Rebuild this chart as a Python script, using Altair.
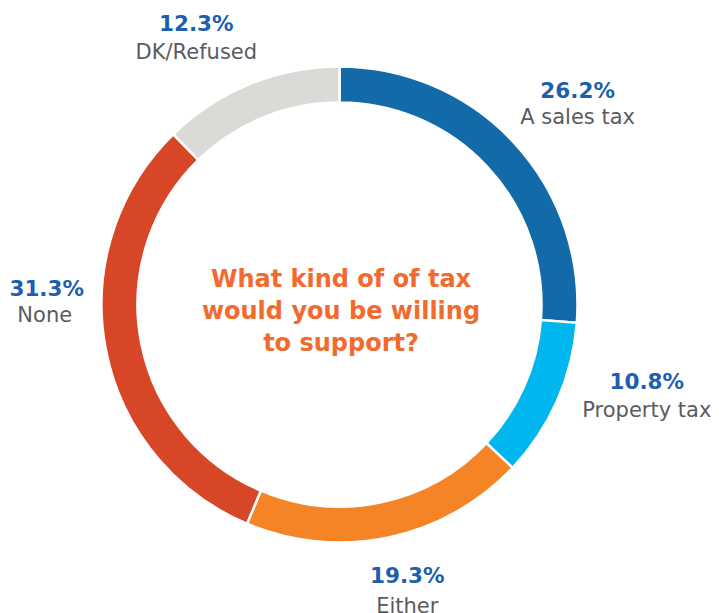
import altair as alt
import pandas as pd

categories = ["A sales tax", "Property tax", "Either", "None", "DK/Refused"]
values = [26.2, 10.8, 19.3, 31.3, 12.3]
pct_labels = ["26.2%", "10.8%", "19.3%", "31.3%", "12.3%"]
colors = ["#126AA8", "#00B6EF", "#F58426", "#D74627", "#DADAD6"]
center_lines = ["What kind of of tax", "would you be willing", "to support?"]

df = pd.DataFrame({
    "category": categories,
    "value": values,
    "pct": pct_labels,
    "idx": list(range(len(categories))),
})

FONT = "DejaVu Sans"
base = alt.Chart(df)

theta = alt.Theta("value:Q", stack=True)
order = alt.Order("idx:Q")

arc = base.mark_arc(outerRadius=238, innerRadius=202, stroke="white", strokeWidth=2.5).encode(
    theta=theta,
    color=alt.Color("category:N", scale=alt.Scale(domain=categories, range=colors), legend=None),
    order=order,
)

# label nudges (layout): (pct dx, pct dy, cat dx, cat dy)
nudges = {
    "A sales tax": (18, -9, 18, 17),
    "Property tax": (33, -43, 33, -15),
    "Either": (6, -21, 6, 9),
    "None": (2, -70, 0, -44),
    "DK/Refused": (-30, -2, -30, 26),
}

layers = [arc]
for cat in categories:
    pdx, pdy, cdx, cdy = nudges[cat]
    pct_layer = base.mark_text(
        radius=300, dx=pdx, dy=pdy, font=FONT, fontSize=21.5, fontWeight="bold",
        color="#1D5FAE", baseline="middle", align="center",
    ).encode(
        theta=theta, order=order, detail="category:N",
        text=alt.condition(alt.datum.category == cat, alt.Text("pct:N"), alt.value("")),
    )
    cat_layer = base.mark_text(
        radius=300, dx=cdx, dy=cdy, font=FONT, fontSize=21,
        color="#5B5B5F", baseline="middle", align="center",
    ).encode(
        theta=theta, order=order, detail="category:N",
        text=alt.condition(alt.datum.category == cat, alt.Text("category:N"), alt.value("")),
    )
    layers += [pct_layer, cat_layer]

center = alt.Chart(pd.DataFrame({"t": [0]})).mark_text(
    text=center_lines, font=FONT, fontSize=24, fontWeight="bold", color="#F26A2E",
    align="center", baseline="alphabetic", lineHeight=32,
).encode(x=alt.value(325), y=alt.value(279))
layers.append(center)

chart = alt.layer(*layers).properties(
    width=647, height=593,
    padding={"left": 8, "top": 0, "right": 48, "bottom": 12},
    autosize="none",
).configure_view(stroke=None)

chart.save("out.html", embed_options={"renderer": "svg", "actions": False})
